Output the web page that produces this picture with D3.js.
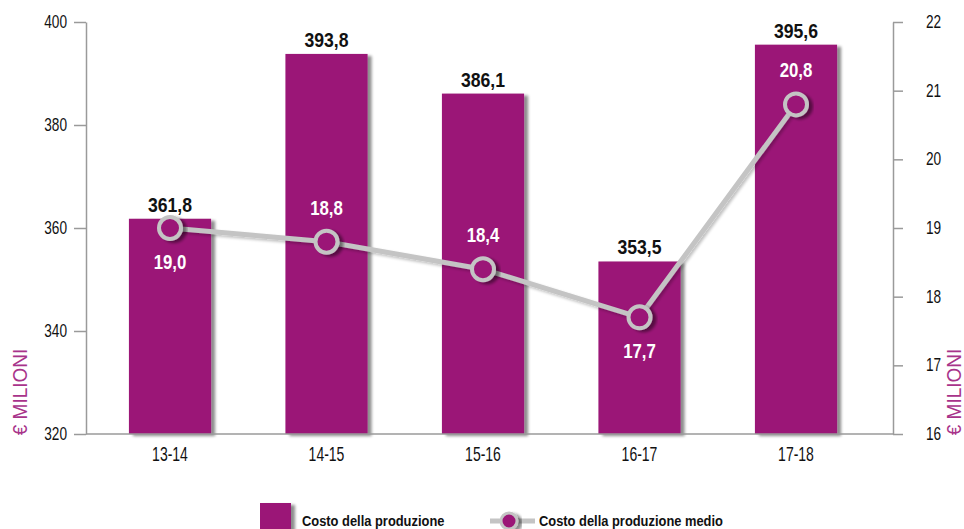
<!DOCTYPE html>
<html><head><meta charset="utf-8">
<script src="https://cdn.jsdelivr.net/npm/d3@7"></script>
<style>
html,body{margin:0;padding:0;background:#fff;}
svg{display:block;}
</style></head>
<body>
<svg id="chart" width="964" height="529"></svg>
<script>
const categories = ["13-14", "14-15", "15-16", "16-17", "17-18"];
const costoProduzione = [361.8, 393.8, 386.1, 353.5, 395.6];
const costoMedio = [19.0, 18.8, 18.4, 17.7, 20.8];
const medioLabelSide = ["below", "above", "above", "below", "above"];
const leftTicks = [320, 340, 360, 380, 400];
const rightTicks = [16, 17, 18, 19, 20, 21, 22];
const legendLabels = ["Costo della produzione", "Costo della produzione medio"];
const axisTitle = "€ MILIONI";

const purple = "#9b1677";
const grey = "#c4c4c4";
const axisCol = "#9a9a9a";
const sans = "'Liberation Sans',Arial,sans-serif";

const svg = d3.select("#chart");
const defs = svg.append("defs");
function shadow(id, dx, dy, sd, op) {
  const f = defs.append("filter").attr("id",id).attr("x","-30%").attr("y","-30%").attr("width","160%").attr("height","160%");
  f.append("feGaussianBlur").attr("in","SourceAlpha").attr("stdDeviation",sd).attr("result","b");
  f.append("feOffset").attr("in","b").attr("dx",dx).attr("dy",dy).attr("result","o");
  f.append("feComponentTransfer").attr("in","o").attr("result","c")
    .append("feFuncA").attr("type","linear").attr("slope",op);
  const m = f.append("feMerge");
  m.append("feMergeNode").attr("in","c");
  m.append("feMergeNode").attr("in","SourceGraphic");
}
shadow("shadow", 3.5, 2, 1.8, 0.45);
shadow("shadowSoft", 2, 2, 1.5, 0.25);

const xLeft = 86, xRight = 893, yTop = 22, yBottom = 434;

const x = d3.scaleBand().domain(categories).range([91.75, 874.25]).paddingInner(0.475).paddingOuter(0.2375);
const yL = d3.scaleLinear().domain([320, 400]).range([yBottom, yTop]);
const yR = d3.scaleLinear().domain([16, 22]).range([yBottom, yTop]);

// condensed text helper
function ctext(g, px, py, s, txt) {
  return g.append("text").attr("transform", `translate(${px},${py}) scale(${s},1)`).text(txt);
}

// bars
svg.append("g").selectAll("rect").data(costoProduzione).join("rect")
  .attr("x", (d,i) => x(categories[i]))
  .attr("y", d => yL(d))
  .attr("width", x.bandwidth())
  .attr("height", d => yBottom - yL(d))
  .attr("fill", purple)
  .attr("filter", "url(#shadow)");

// axes
const gL = svg.append("g").attr("transform", `translate(${xLeft},0)`)
  .call(d3.axisLeft(yL).tickValues(leftTicks).tickSize(12).tickSizeOuter(0).tickPadding(7).tickFormat(d3.format("d")));
const gR = svg.append("g").attr("transform", `translate(${xRight},0)`)
  .call(d3.axisRight(yR).tickValues(rightTicks).tickSize(10).tickSizeOuter(0).tickPadding(23).tickFormat(d3.format("d")));
const gB = svg.append("g").attr("transform", `translate(0,${yBottom})`)
  .call(d3.axisBottom(x).tickSize(0).tickSizeOuter(0).tickPadding(13));
gB.select(".domain").attr("d", `M${xLeft},0H${xRight}`);
[gL, gR, gB].forEach(g => {
  g.select(".domain").attr("stroke", axisCol).attr("stroke-width", 1.5);
  g.selectAll(".tick line").attr("stroke", axisCol).attr("stroke-width", 1.5);
  g.selectAll(".tick text").attr("fill", "#111").style("font-family", sans).style("font-size", "17.5px");
});
const sTick = 0.78;
gL.selectAll(".tick text").each(function(){ const t = d3.select(this); t.attr("x", (+t.attr("x"))/sTick).attr("transform", `scale(${sTick},1)`); });
gR.selectAll(".tick text").each(function(){ const t = d3.select(this); t.attr("x", (+t.attr("x"))/sTick).attr("transform", `scale(${sTick},1)`); });
gB.selectAll(".tick text").style("font-size", "20px").attr("transform", "scale(0.7,1)");

// axis titles
[[27, 392], [961, 392]].forEach(([tx, ty]) => {
  svg.append("text").attr("transform", `translate(${tx},${ty}) rotate(-90) scale(0.95,1)`)
    .attr("text-anchor","middle").attr("fill", "#a8338a")
    .style("font-family", sans).style("font-size","20px")
    .text(axisTitle);
});

// bar labels
const fmt = v => d3.format(".1f")(v).replace(".", ",");
const gBL = svg.append("g").attr("fill","#111").attr("text-anchor","middle")
  .style("font-family", sans).style("font-weight","bold").style("font-size","21px");
costoProduzione.forEach((d,i) => {
  ctext(gBL, x(categories[i]) + x.bandwidth()/2, yL(d) - 7, 0.84, fmt(d));
});

// line
const cx = i => x(categories[i]) + x.bandwidth()/2;
const line = d3.line().x((d,i) => cx(i)).y(d => yR(d));
svg.append("path").datum(costoMedio).attr("d", line)
  .attr("fill","none").attr("stroke", grey).attr("stroke-width", 5)
  .attr("filter","url(#shadowSoft)");
svg.append("g").selectAll("circle").data(costoMedio).join("circle")
  .attr("cx", (d,i) => cx(i)).attr("cy", d => yR(d)).attr("r", 11)
  .attr("fill", purple).attr("stroke", grey).attr("stroke-width", 4)
  .attr("filter","url(#shadow)");
const gML = svg.append("g").attr("fill","#fff").attr("text-anchor","middle")
  .style("font-family", sans).style("font-weight","bold").style("font-size","21px");
costoMedio.forEach((d,i) => {
  ctext(gML, cx(i), yR(d) + (medioLabelSide[i] === "below" ? 41 : -27), 0.8, fmt(d));
});

// legend
const lg = svg.append("g");
lg.append("rect").attr("x",260).attr("y",503).attr("width",31).attr("height",30)
  .attr("fill",purple).attr("filter","url(#shadow)");
const lgt = lg.append("g").attr("fill","#111")
  .style("font-family", sans).style("font-weight","bold").style("font-size","15px");
ctext(lgt, 302, 526, 0.86, legendLabels[0]);
lg.append("line").attr("x1",490).attr("x2",535).attr("y1",521).attr("y2",521)
  .attr("stroke",grey).attr("stroke-width",5);
lg.append("circle").attr("cx",509).attr("cy",521).attr("r",8)
  .attr("fill",purple).attr("stroke",grey).attr("stroke-width",3).attr("filter","url(#shadow)");
ctext(lgt, 539, 526, 0.86, legendLabels[1]);
</script>
</body></html>
